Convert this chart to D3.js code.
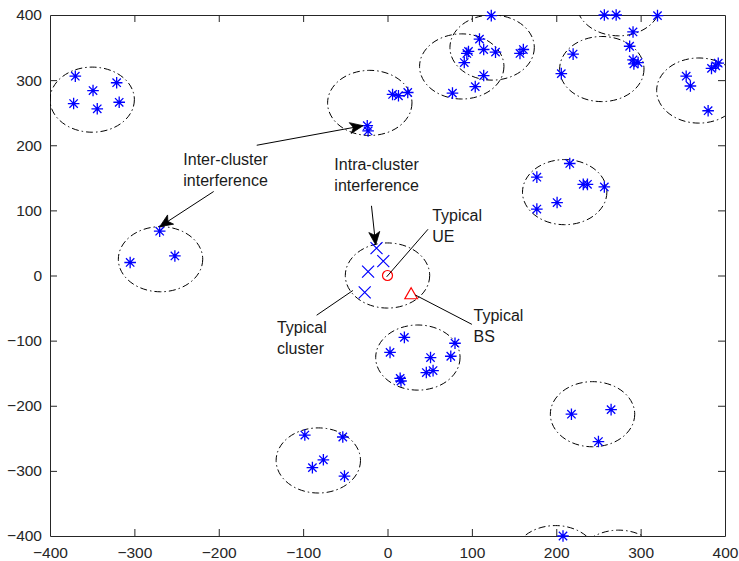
<!DOCTYPE html>
<html>
<head>
<meta charset="utf-8">
<script src="https://cdn.jsdelivr.net/npm/d3@7"></script>
<style>
  html, body { margin: 0; padding: 0; background: #fff; }
  svg { display: block; font-family: "Liberation Sans", Arial, Helvetica, sans-serif; }
</style>
</head>
<body>
<svg id="chart" width="739" height="561"></svg>
<script>
// Axis ticks
const xTicks = [-400, -300, -200, -100, 0, 100, 200, 300, 400];
const yTicks = [-400, -300, -200, -100, 0, 100, 200, 300, 400];

// Cluster centres (each cluster is a disc of radius clusterRadius)
const clusterRadius = 50;
const clusterX = [-350, -21, 88, 124, 254, 274, 369, -269, 0, 210, 36, 243, -82, 199, 274];
const clusterY = [ 270, 265, 321, 350, 317, 418, 284,   25, 0, 128, -126, -213, -284, -434, -441];

// Interfering devices in other clusters
const ueX = [
  -370, -349, -321, -372, -344, -318,
  6, 13, 24, -24, -23,
  123, 109, 96, 94, 114, 128, 91, 114, 104, 77, 157, 161,
  257, 271, 320, 291, 287, 291, 292, 297, 220, 206,
  354, 359, 380, 384, 389, 392,
  -270, -305, -252,
  216, 177, 232, 237, 257, 201, 177,
  20, 3, 51, 80, 75, 46, 54, 15, 16,
  218, 265, 250,
  -98, -53, -76, -89, -51,
  208
];
const ueY = [
  306, 284, 296, 264, 256, 266,
  278, 276, 281, 230, 222,
  399, 363, 344, 341, 347, 343, 327, 307, 290, 280, 341, 347,
  400, 400, 399, 374, 352, 331, 325, 327, 340, 310,
  306, 291, 253, 318, 322, 326,
  68, 20, 30,
  172, 151, 140, 140, 136, 112, 102,
  -95, -118, -126, -104, -124, -149, -146, -158, -162,
  -213, -206, -255,
  -245, -248, -283, -295, -308,
  -400
];

// Other devices in the typical cluster
const intraX = [-13, -5, -23, -27];
const intraY = [42, 22, 6, -26];

// Typical UE and typical BS
const typicalUE = [0, 0];
const typicalBS = [28, -28];

// Annotation arrows: [x0, y0, x1, y1, head]
const arrows = [
  [-155, 200, -29, 230, true],
  [-206, 129, -270, 75, true],
  [-19, 107, -14, 47, true],
  [48, 71, -1, -2, false],
  [100, -75, 33, -30, false],
  [-84, -61, -41, -23, false]
];

// Annotation labels: lines, left x, first line y (centre)
const labels = [
  { lines: ["Inter-cluster", "interference"], x: -242, y: 179 },
  { lines: ["Intra-cluster", "interference"], x: -63, y: 170 },
  { lines: ["Typical", "UE"], x: 53, y: 92 },
  { lines: ["Typical", "BS"], x: 102, y: -62 },
  { lines: ["Typical", "cluster"], x: -131, y: -79 }
];

const svg = d3.select("#chart");
const margin = { left: 50, right: 14, top: 15, bottom: 25 };
const W = 739, H = 561;
const x = d3.scaleLinear().domain([-400, 400]).range([margin.left, W - margin.right]);
const y = d3.scaleLinear().domain([-400, 400]).range([H - margin.bottom, margin.top]);
const axisColor = "#262626";

svg.append("defs").append("clipPath").attr("id", "plotClip")
  .append("rect")
  .attr("x", x(-400)).attr("y", y(400))
  .attr("width", x(400) - x(-400)).attr("height", y(-400) - y(400));

// Frame with ticks on all four sides
const gx = svg.append("g").attr("transform", `translate(0,${y(-400)})`)
  .call(d3.axisBottom(x).tickValues(xTicks).tickSizeInner(-7).tickSizeOuter(0).tickPadding(11).tickFormat(d3.format("d")));
const gxt = svg.append("g").attr("transform", `translate(0,${y(400)})`)
  .call(d3.axisTop(x).tickValues(xTicks).tickSizeInner(-7).tickSizeOuter(0).tickFormat(""));
const gy = svg.append("g").attr("transform", `translate(${x(-400)},0)`)
  .call(d3.axisLeft(y).tickValues(yTicks).tickSizeInner(-7).tickSizeOuter(0).tickPadding(8).tickFormat(d3.format("d")));
const gyr = svg.append("g").attr("transform", `translate(${x(400)},0)`)
  .call(d3.axisRight(y).tickValues(yTicks).tickSizeInner(-7).tickSizeOuter(0).tickFormat(""));
[gx, gxt, gy, gyr].forEach(g => {
  g.selectAll(".domain").attr("stroke", axisColor).attr("stroke-width", 1);
  g.selectAll(".tick line").attr("stroke", axisColor).attr("stroke-width", 1);
  g.selectAll(".tick text").attr("fill", axisColor).attr("font-size", 15.5)
    .attr("font-family", "Liberation Sans, Arial, sans-serif");
});
// drop the tick marks that coincide with the frame corners
[gx, gxt].forEach(g => g.selectAll(".tick").filter(d => d === -400 || d === 400).select("line").remove());
[gy, gyr].forEach(g => g.selectAll(".tick").filter(d => d === -400 || d === 400).select("line").remove());

// Cluster boundaries
const rx = x(clusterRadius) - x(0);
const ry = y(0) - y(clusterRadius);
svg.append("g").attr("clip-path", "url(#plotClip)")
  .selectAll("ellipse").data(d3.range(clusterX.length)).join("ellipse")
  .attr("cx", i => x(clusterX[i])).attr("cy", i => y(clusterY[i]))
  .attr("rx", rx).attr("ry", ry)
  .attr("fill", "none").attr("stroke", "#000").attr("stroke-width", 1)
  .attr("stroke-dasharray", "7,3,1.5,3");

// Asterisk markers
const s = 5.8, d = s * 0.72;
const starPath = `M${-s},0H${s}M0,${-s}V${s}M${-d},${-d}L${d},${d}M${-d},${d}L${d},${-d}`;
svg.append("g").selectAll("path").data(d3.range(ueX.length)).join("path")
  .attr("transform", i => `translate(${x(ueX[i])},${y(ueY[i])})`)
  .attr("d", starPath)
  .attr("stroke", "#0000ff").attr("stroke-width", 1.3).attr("fill", "none");

// Cross markers for the typical cluster
const c = 6;
svg.append("g").selectAll("path").data(d3.range(intraX.length)).join("path")
  .attr("transform", i => `translate(${x(intraX[i])},${y(intraY[i])})`)
  .attr("d", `M${-c},${-c}L${c},${c}M${-c},${c}L${c},${-c}`)
  .attr("stroke", "#0000ff").attr("stroke-width", 1.2).attr("fill", "none");

// Typical UE (circle) and BS (triangle)
svg.append("circle")
  .attr("cx", x(typicalUE[0])).attr("cy", y(typicalUE[1])).attr("r", 5)
  .attr("fill", "none").attr("stroke", "#ff0000").attr("stroke-width", 1.2);
svg.append("path")
  .attr("transform", `translate(${x(typicalBS[0])},${y(typicalBS[1])})`)
  .attr("d", "M0,-6L6.3,5L-6.3,5Z")
  .attr("fill", "none").attr("stroke", "#ff0000").attr("stroke-width", 1.2);

// Annotation arrows
const ag = svg.append("g");
arrows.forEach(([x0, y0, x1, y1, head]) => {
  const px0 = x(x0), py0 = y(y0), px1 = x(x1), py1 = y(y1);
  const ang = Math.atan2(py1 - py0, px1 - px0);
  const L = 13, hw = 5.5;
  const ux = Math.cos(ang), uy = Math.sin(ang);
  const endX = head ? px1 - ux * L * 0.7 : px1;
  const endY = head ? py1 - uy * L * 0.7 : py1;
  ag.append("line").attr("x1", px0).attr("y1", py0).attr("x2", endX).attr("y2", endY)
    .attr("stroke", "#000").attr("stroke-width", 1);
  if (head) {
    const bx = px1 - ux * L, by = py1 - uy * L;
    const nx = px1 - ux * L * 0.75, ny = py1 - uy * L * 0.75;
    const pts = [
      [px1, py1],
      [bx - uy * hw, by + ux * hw],
      [nx, ny],
      [bx + uy * hw, by - ux * hw]
    ];
    ag.append("path").attr("d", "M" + pts.map(p => p.join(",")).join("L") + "Z")
      .attr("fill", "#000").attr("stroke", "#000").attr("stroke-width", 0.8);
  }
});

// Annotation text
const lg = svg.append("g").attr("font-size", 16).attr("fill", "#1a1a1a");
labels.forEach(lb => {
  lb.lines.forEach((t, k) => {
    lg.append("text")
      .attr("x", x(lb.x)).attr("y", y(lb.y) + k * 21)
      .attr("dy", "0.35em")
      .text(t);
  });
});
</script>
</body>
</html>
